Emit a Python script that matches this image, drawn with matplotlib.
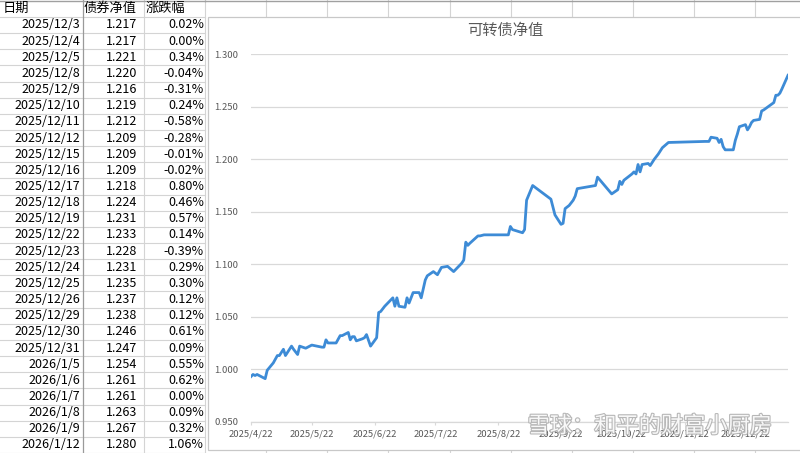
import numpy as np
import pandas as pd
import matplotlib
matplotlib.use('Agg')
import matplotlib.pyplot as plt
import matplotlib.patheffects as pe

plt.rcParams['font.family'] = ['Noto Sans CJK SC', 'DejaVu Sans']
plt.rcParams['axes.unicode_minus'] = False

# ---------- 数据：4/22 ~ 12/2 净值拐点 ----------
early_dates = [
    '2025-04-22', '2025-04-23', '2025-04-24', '2025-04-25', '2025-04-28', '2025-04-29',
    '2025-04-30', '2025-05-03', '2025-05-05', '2025-05-06', '2025-05-08', '2025-05-09',
    '2025-05-12', '2025-05-13', '2025-05-15', '2025-05-16', '2025-05-19', '2025-05-22',
    '2025-05-27', '2025-05-28', '2025-05-29', '2025-05-30', '2025-06-03', '2025-06-05',
    '2025-06-06', '2025-06-09', '2025-06-10', '2025-06-11', '2025-06-12', '2025-06-13',
    '2025-06-16', '2025-06-17', '2025-06-18', '2025-06-20', '2025-06-23', '2025-06-24',
    '2025-06-25', '2025-06-27', '2025-07-01', '2025-07-02', '2025-07-03', '2025-07-04',
    '2025-07-07', '2025-07-08', '2025-07-09', '2025-07-11', '2025-07-14', '2025-07-15',
    '2025-07-17', '2025-07-18', '2025-07-21', '2025-07-23', '2025-07-25', '2025-07-28',
    '2025-07-31', '2025-08-04', '2025-08-05', '2025-08-06', '2025-08-07', '2025-08-08',
    '2025-08-12', '2025-08-13', '2025-08-15', '2025-08-27', '2025-08-28', '2025-08-29',
    '2025-09-03', '2025-09-04', '2025-09-05', '2025-09-08', '2025-09-17', '2025-09-19',
    '2025-09-22', '2025-09-23', '2025-09-24', '2025-09-26', '2025-09-28', '2025-09-29',
    '2025-09-30', '2025-10-09', '2025-10-10', '2025-10-17', '2025-10-20', '2025-10-21',
    '2025-10-22', '2025-10-23', '2025-10-27', '2025-10-28', '2025-10-29', '2025-10-30',
    '2025-10-31', '2025-11-01', '2025-11-04', '2025-11-05', '2025-11-07', '2025-11-09',
    '2025-11-11', '2025-11-14', '2025-12-02',
]
early_nav = [
    0.993, 0.995, 0.994, 0.995, 0.992, 0.991,
    0.999, 1.006, 1.013, 1.013, 1.019, 1.013,
    1.022, 1.019, 1.014, 1.022, 1.020, 1.023,
    1.021, 1.021, 1.028, 1.025, 1.025, 1.032,
    1.032, 1.035, 1.028, 1.031, 1.031, 1.027,
    1.029, 1.030, 1.033, 1.022, 1.030, 1.054,
    1.055, 1.060, 1.068, 1.060, 1.068, 1.060,
    1.059, 1.068, 1.063, 1.073, 1.073, 1.068,
    1.085, 1.089, 1.093, 1.090, 1.097, 1.098,
    1.093, 1.101, 1.104, 1.121, 1.118, 1.120,
    1.127, 1.127, 1.128, 1.128, 1.136, 1.133,
    1.130, 1.133, 1.161, 1.175, 1.162, 1.147,
    1.138, 1.139, 1.153, 1.156, 1.161, 1.165,
    1.172, 1.175, 1.183, 1.167, 1.171, 1.179,
    1.176, 1.180, 1.186, 1.188, 1.186, 1.195,
    1.188, 1.195, 1.196, 1.194, 1.200, 1.205,
    1.211, 1.216, 1.217,
]

# ---------- 表格数据（左侧） ----------
table_dates = [
    '2025/12/3', '2025/12/4', '2025/12/5', '2025/12/8', '2025/12/9', '2025/12/10',
    '2025/12/11', '2025/12/12', '2025/12/15', '2025/12/16', '2025/12/17', '2025/12/18',
    '2025/12/19', '2025/12/22', '2025/12/23', '2025/12/24', '2025/12/25', '2025/12/26',
    '2025/12/29', '2025/12/30', '2025/12/31', '2026/1/5', '2026/1/6', '2026/1/7',
    '2026/1/8', '2026/1/9', '2026/1/12',
]
table_nav = [
    1.217, 1.217, 1.221, 1.220, 1.216, 1.219, 1.212, 1.209, 1.209, 1.209,
    1.218, 1.224, 1.231, 1.233, 1.228, 1.231, 1.235, 1.237, 1.238, 1.246,
    1.247, 1.254, 1.261, 1.261, 1.263, 1.267, 1.280,
]
table_pct = [
    0.02, 0.00, 0.34, -0.04, -0.31, 0.24, -0.58, -0.28, -0.01, -0.02,
    0.80, 0.46, 0.57, 0.14, -0.39, 0.29, 0.30, 0.12, 0.12, 0.61,
    0.09, 0.55, 0.62, 0.00, 0.09, 0.32, 1.06,
]
headers = ['日期', '债券净值', '涨跌幅']

dates = pd.to_datetime(early_dates + [pd.to_datetime(d, format='%Y/%m/%d').strftime('%Y-%m-%d')
                                      for d in table_dates])
nav = np.array(early_nav + table_nav)

# ---------- 画布 ----------
W, H = 800, 453
fig = plt.figure(figsize=(8, 4.53), dpi=100)
fig.patch.set_facecolor('white')

# 背景层：像素坐标，画表格网格
bg = fig.add_axes([0, 0, 1, 1])
bg.set_xlim(0, W)
bg.set_ylim(H, 0)
bg.axis('off')

grid_c = '#D4D4D4'
row_h = 16.15
row0 = 25.0
# 左侧表格横线
for i in range(-1, len(table_dates) + 1):
    yb = row0 + row_h * i + row_h / 2
    bg.plot([0, 205], [yb, yb], color=grid_c, lw=0.8)
bg.plot([82.5, 82.5], [0, H], color='#9A9A9A', lw=0.9)
bg.plot([143.5, 143.5], [0, H], color=grid_c, lw=0.8)
bg.plot([205, 205], [0, H], color=grid_c, lw=0.8)

# 上方/下方露出的单元格
col_x = [266, 327, 388, 450, 511, 572, 633, 694, 755]
for cx in col_x:
    bg.plot([cx, cx], [0, 16.5], color=grid_c, lw=0.8)
    bg.plot([cx, cx], [450, H], color=grid_c, lw=0.8)
bg.plot([205, W], [0.5, 0.5], color='#A0A0A0', lw=1.0)
bg.plot([0, 205], [0.5, 0.5], color='#A0A0A0', lw=1.0)

# 图表区边框
bg.add_patch(plt.Rectangle((207.5, 16.5), W - 207.5 + 5, 433, facecolor='white',
                           edgecolor='#C8C8C8', lw=0.9, zorder=2))

# 表格文字
hy = row0 - row_h
bg.text(3, hy, headers[0], ha='left', va='center', fontsize=9.5, color='black', zorder=3)
bg.text(84, hy, headers[1], ha='left', va='center', fontsize=9.5, color='black', zorder=3)
bg.text(146, hy, headers[2], ha='left', va='center', fontsize=9.5, color='black', zorder=3)
for i, (d, v, p) in enumerate(zip(table_dates, table_nav, table_pct)):
    y = row0 + row_h * i
    bg.text(80.5, y, d, ha='right', va='center', fontsize=9, color='black', zorder=3)
    bg.text(137.5, y, f'{v:.3f}', ha='right', va='center', fontsize=9, color='black', zorder=3)
    bg.text(204, y, f'{p:.2f}%', ha='right', va='center', fontsize=9, color='black', zorder=3)

# ---------- 折线图 ----------
x0, x1 = 251, 788
y_top, y_bot = 54.3, 421.7
ax = fig.add_axes([x0 / W, 1 - y_bot / H, (x1 - x0) / W, (y_bot - y_top) / H])
ax.set_facecolor('none')
ax.plot(dates, nav, color='#3D8BD6', lw=2.0, solid_joinstyle='round', zorder=3)

ax.set_xlim(pd.Timestamp('2025-04-22'), pd.Timestamp('2026-01-12'))
ax.set_ylim(0.95, 1.30)
ax.set_yticks(np.arange(0.95, 1.3001, 0.05))
ax.set_yticklabels([f'{t:.3f}' for t in np.arange(0.95, 1.3001, 0.05)])

xt = pd.date_range('2025-04-22', periods=9, freq=pd.DateOffset(months=1))
ax.set_xticks(xt)
ax.set_xticklabels([f'{d.year}/{d.month}/{d.day}' for d in xt])

ax.grid(axis='y', color='#D9D9D9', lw=0.9)
ax.set_axisbelow(True)
for s in ['top', 'right', 'left']:
    ax.spines[s].set_visible(False)
ax.spines['bottom'].set_color('#D9D9D9')
ax.spines['bottom'].set_linewidth(0.9)
ax.tick_params(axis='y', length=0, pad=9, labelsize=6.8, labelcolor='#595959')
ax.tick_params(axis='x', length=2.5, width=0.8, color='#D9D9D9', pad=3,
               labelsize=6.8, labelcolor='#595959')

fig.text(505 / W, 1 - 30 / H, '可转债净值', ha='center', va='center',
         fontsize=11, color='#595959')

# 水印
fig.text(650 / W, 1 - 426 / H, '雪球：和平的财富小厨房', ha='center', va='center',
         fontsize=16, color='white', alpha=0.9, zorder=10,
         path_effects=[pe.withStroke(linewidth=1.6, foreground='#B0B0B0')])

fig.savefig('out.png', dpi=100)
